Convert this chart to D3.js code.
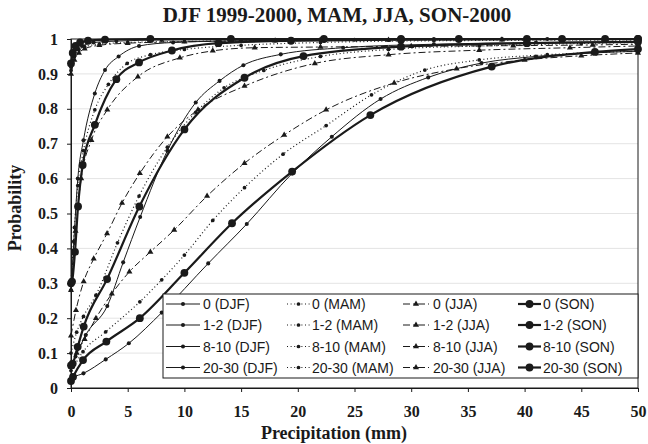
<!DOCTYPE html>
<html>
<head>
<meta charset="utf-8">
<script src="https://cdn.jsdelivr.net/npm/d3@7"></script>
<style>
    html, body { margin: 0; padding: 0; background: #fff; }
    #chart { width: 648px; height: 444px; }
</style>
</head>
<body>
<div id="chart"></div>
<script>
// categories (previous-day rain class) and seasons
const categories = ['0', '1-2', '8-10', '20-30']
const seasons = ['DJF', 'MAM', 'JJA', 'SON']
const xTicks = [0, 5, 10, 15, 20, 25, 30, 35, 40, 45, 50]
const yTicks = [0, 0.1, 0.2, 0.3, 0.4, 0.5, 0.6, 0.7, 0.8, 0.9, 1]

// [precipitation mm, cumulative probability]
const djf0 = [[0, 0.92], [0.2, 0.95], [0.5, 0.97], [1, 0.98], [2, 0.99], [4, 0.994], [8, 0.997], [14, 0.998], [22, 0.999], [32, 1], [42, 1], [50, 1]]
const djf12 = [[0, 0.28], [0.25, 0.42], [0.6, 0.6], [1.1, 0.71], [2.1, 0.844], [3, 0.911], [4.2, 0.95], [6, 0.98], [9, 0.99], [15, 0.995], [25, 0.998], [38, 1], [50, 1]]
const djf810 = [[0, 0.06], [0.4, 0.09], [1.3, 0.152], [3.2, 0.235], [4.6, 0.36], [6.1, 0.49], [8.5, 0.68], [11, 0.818], [13.1, 0.88], [15.2, 0.925], [18.5, 0.956], [24, 0.975], [32, 0.985], [41, 0.99], [50, 0.993]]
const djf2030 = [[0, 0.025], [0.2, 0.03], [1.1, 0.042], [3.06, 0.082], [5.1, 0.128], [8, 0.216], [12.1, 0.357], [15.5, 0.47], [19.5, 0.615], [23, 0.72], [27.3, 0.828], [31.5, 0.89], [36.2, 0.931], [41, 0.95], [46, 0.96], [50, 0.965]]

const mam0 = [[0, 0.91], [0.3, 0.95], [0.7, 0.97], [1.2, 0.978], [2.5, 0.985], [5, 0.99], [10, 0.993], [18, 0.995], [28, 0.997], [38, 0.998], [50, 0.998]]
const mam12 = [[0, 0.3], [0.3, 0.46], [0.6, 0.58], [1.1, 0.68], [2.1, 0.797], [3.3, 0.87], [4.95, 0.93], [7, 0.955], [10, 0.97], [15, 0.982], [22, 0.99], [32, 0.995], [50, 0.997]]
const mam810 = [[0, 0.1], [0.5, 0.16], [1.1, 0.205], [2.2, 0.266], [4.1, 0.416], [6, 0.55], [8.5, 0.69], [11, 0.79], [13.5, 0.86], [17, 0.91], [22, 0.95], [28, 0.97], [36, 0.98], [45, 0.987], [50, 0.99]]
const mam2030 = [[0, 0.05], [0.2, 0.06], [1.06, 0.104], [3.06, 0.161], [6.07, 0.247], [8, 0.31], [10, 0.381], [12.5, 0.48], [15.3, 0.574], [18.7, 0.67], [22.5, 0.752], [26.5, 0.84], [31.2, 0.911], [36, 0.94], [42, 0.955], [50, 0.965]]

const jja0 = [[0, 0.9], [0.3, 0.94], [0.7, 0.96], [1.2, 0.972], [2.5, 0.982], [5, 0.988], [10, 0.992], [18, 0.995], [28, 0.997], [38, 0.998], [50, 0.998]]
const jja12 = [[0, 0.28], [0.4, 0.45], [0.9, 0.6], [1.8, 0.71], [3.2, 0.797], [5.9, 0.892], [9.6, 0.946], [12.5, 0.966], [16.2, 0.975], [22, 0.977], [30, 0.979], [39, 0.981], [46, 0.983], [50, 0.985]]
const jja810 = [[0, 0.15], [0.44, 0.223], [1.12, 0.305], [2, 0.37], [3.18, 0.443], [4.5, 0.53], [6.07, 0.615], [8.5, 0.72], [11.2, 0.797], [15.3, 0.865], [21.5, 0.93], [28, 0.955], [36, 0.968], [44, 0.975], [50, 0.98]]
const jja2030 = [[0, 0.06], [0.5, 0.1], [1.2, 0.14], [2.2, 0.2], [3.6, 0.27], [5.15, 0.333], [7, 0.39], [9.1, 0.453], [12, 0.55], [15.3, 0.644], [18.8, 0.725], [22.5, 0.797], [28.5, 0.874], [34, 0.915], [40, 0.94], [45, 0.952], [50, 0.96]]

const son0 = [[0, 0.93], [0.15, 0.96], [0.4, 0.98], [0.8, 0.99], [1.5, 0.995], [3, 0.998], [7, 1], [14.1, 1], [22.3, 1], [29.1, 1], [34.2, 1], [40.2, 1], [47.1, 1], [50, 1]]
const son12 = [[0, 0.3], [0.09, 0.305], [0.35, 0.39], [0.62, 0.52], [1.03, 0.639], [2.1, 0.754], [4, 0.885], [6, 0.933], [8.9, 0.967], [13, 0.988], [19.4, 0.995], [29.1, 0.998], [43.3, 1], [50, 1]]
const son810 = [[0, 0.065], [0.15, 0.07], [0.59, 0.118], [1.12, 0.176], [3.18, 0.312], [6.03, 0.52], [10, 0.741], [15.3, 0.889], [20.5, 0.951], [29.1, 0.978], [40.2, 0.988], [50, 0.992]]
const son2030 = [[0, 0.02], [0.18, 0.032], [1.06, 0.08], [3.12, 0.133], [6.07, 0.2], [10, 0.33], [14.2, 0.472], [19.5, 0.62], [26.4, 0.782], [37.1, 0.921], [46.2, 0.963], [50, 0.971]]

const seriesBySeason = {
    DJF: [djf0, djf12, djf810, djf2030],
    MAM: [mam0, mam12, mam810, mam2030],
    JJA: [jja0, jja12, jja810, jja2030],
    SON: [son0, son12, son810, son2030]
}

// line / marker look per season
const styles = {
    DJF: { width: 1, dash: null, symbol: d3.symbolCircle, size: 13 },
    MAM: { width: 1.2, dash: '1,2.6', symbol: d3.symbolCircle, size: 11 },
    JJA: { width: 1, dash: '7,3,2,3', symbol: d3.symbolTriangle, size: 16 },
    SON: { width: 2.2, dash: null, symbol: d3.symbolCircle, size: 48 }
}

const ink = '#1a1a1a'
const width = 648
const height = 444
const plot = { left: 71, right: 638, top: 39, bottom: 388 }

const svg = d3.select('#chart').append('svg')
    .attr('width', width).attr('height', height)
    .style('font-family', '"Liberation Serif", "Times New Roman", serif')

const x = d3.scaleLinear().domain([0, 50]).range([plot.left, plot.right])
const y = d3.scaleLinear().domain([0, 1]).range([plot.bottom, plot.top])

// faint gridlines
svg.append('g').selectAll('line')
    .data(yTicks.slice(1, -1))
    .enter().append('line')
    .attr('x1', plot.left).attr('x2', plot.right)
    .attr('y1', d => y(d)).attr('y2', d => y(d))
    .attr('stroke', '#e4e4e4').attr('stroke-width', 1)

const line = d3.line()
    .x(d => x(d[0]))
    .y(d => y(d[1]))
    .curve(d3.curveMonotoneX)

const curves = svg.append('g')
seasons.forEach(s => {
    const st = styles[s]
    seriesBySeason[s].forEach(data => {
        curves.append('path')
            .datum(data)
            .attr('d', line)
            .attr('fill', 'none')
            .attr('stroke', ink)
            .attr('stroke-width', st.width)
            .attr('stroke-dasharray', st.dash)
        curves.append('g').selectAll('path')
            .data(data)
            .enter().append('path')
            .attr('d', d3.symbol().type(st.symbol).size(st.size))
            .attr('transform', d => `translate(${x(d[0])},${y(d[1])})`)
            .attr('fill', ink)
    })
})

// frame
svg.append('rect')
    .attr('x', plot.left).attr('y', plot.top)
    .attr('width', plot.right - plot.left).attr('height', plot.bottom - plot.top)
    .attr('fill', 'none').attr('stroke', ink).attr('stroke-width', 1)

const xAxis = svg.append('g')
    .attr('transform', `translate(0,${plot.bottom})`)
    .call(d3.axisBottom(x).tickValues(xTicks).tickSize(4).tickPadding(14).tickFormat(d3.format('d')))
const yAxis = svg.append('g')
    .attr('transform', `translate(${plot.left},0)`)
    .call(d3.axisLeft(y).tickValues(yTicks).tickSize(4).tickPadding(9)
        .tickFormat(d => (d === 0 || d === 1) ? String(d) : d3.format('.1f')(d)))

;[xAxis, yAxis].forEach(ax => {
    ax.select('.domain').attr('stroke', ink)
    ax.selectAll('line').attr('stroke', ink)
    ax.selectAll('text')
        .attr('fill', ink)
        .style('font-family', '"Liberation Serif", "Times New Roman", serif')
        .style('font-size', '16px')
        .style('font-weight', 'bold')
})

// titles
svg.append('text')
    .attr('x', 337).attr('y', 22)
    .attr('text-anchor', 'middle')
    .style('font-size', '21px').style('font-weight', 'bold')
    .attr('fill', ink)
    .text('DJF 1999-2000, MAM, JJA, SON-2000')

svg.append('text')
    .attr('x', 334).attr('y', 439)
    .attr('text-anchor', 'middle')
    .style('font-size', '18px').style('font-weight', 'bold')
    .attr('fill', ink)
    .text('Precipitation (mm)')

svg.append('text')
    .attr('transform', 'translate(21,208) rotate(-90)')
    .attr('text-anchor', 'middle')
    .style('font-size', '18px').style('font-weight', 'bold')
    .attr('fill', ink)
    .text('Probability')

// legend: rows = categories, columns = seasons
const legend = svg.append('g')
legend.append('rect')
    .attr('x', 163).attr('y', 294)
    .attr('width', 475).attr('height', 84)
    .attr('fill', '#fff').attr('stroke', ink).attr('stroke-width', 1)

const colX = { DJF: [166, 200, 203], MAM: [287, 310, 312], JJA: [403, 429, 433], SON: [518, 541, 543] }
const rowY = [304, 325, 346.5, 367.5]

seasons.forEach(s => {
    const st = styles[s]
    const [x0, x1, tx] = colX[s]
    categories.forEach((c, i) => {
        const cy = rowY[i]
        legend.append('line')
            .attr('x1', x0).attr('x2', x1).attr('y1', cy).attr('y2', cy)
            .attr('stroke', ink)
            .attr('stroke-width', st.width)
            .attr('stroke-dasharray', st.dash)
        legend.append('path')
            .attr('d', d3.symbol().type(st.symbol).size(st.size)())
            .attr('transform', `translate(${(x0 + x1) / 2},${cy})`)
            .attr('fill', ink)
        legend.append('text')
            .attr('x', tx).attr('y', cy + 5)
            .style('font-family', '"Liberation Sans", Arial, sans-serif')
            .style('font-size', '14px')
            .attr('fill', ink)
            .text(`${c} (${s})`)
    })
})
</script>
</body>
</html>
